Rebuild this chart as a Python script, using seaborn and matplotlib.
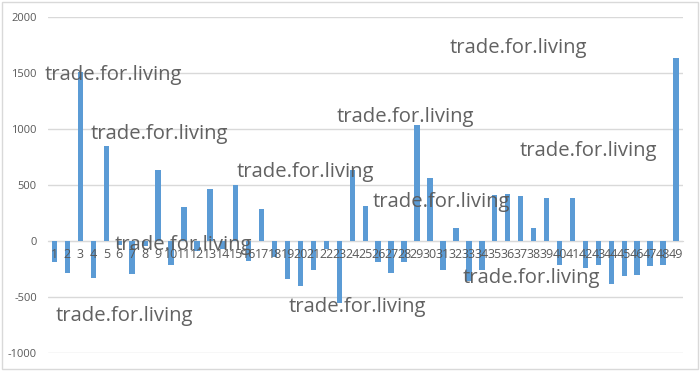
import matplotlib
matplotlib.use("Agg")
import matplotlib.pyplot as plt
import seaborn as sns
import pandas as pd
from matplotlib.patches import Rectangle

categories = [str(i) for i in range(1, 50)]
values = [-190, -285, 1510, -330, 850, -40, -295, -50, 630, -215,
          300, -95, 460, -75, 500, -180, 285, -145, -340, -405,
          -260, -70, -555, 630, 310, -190, -285, -190, 1035, 560,
          -260, 115, -360, -260, 410, 415, 400, 113, 380, -215,
          380, -245, -215, -385, -315, -305, -225, -215, 1630]
y_ticks = [-1000, -500, 0, 500, 1000, 1500, 2000]
watermark = "trade.for.living"
# watermark anchor positions in pixels (left x, baseline y from top)
wm_x = [45, 91, 115, 56, 237, 337, 289, 373, 450, 520, 463]
wm_y = [80, 139, 250, 321, 177, 122, 312, 207, 53, 156, 283]

df = pd.DataFrame({"cat": categories, "val": values})

sns.set_style("white")
plt.rcParams["font.family"] = ["Open Sans", "DejaVu Sans"]

W, H = 700, 371
fig = plt.figure(figsize=(W / 100, H / 100), dpi=100)
fig.patch.set_facecolor("white")
ax = fig.add_axes([48 / W, 1 - 352.7 / H, (682.5 - 48) / W, (352.7 - 16.7) / H])

sns.barplot(data=df, x="cat", y="val", color="#5B9BD5", width=0.42,
            saturation=1, linewidth=0, ax=ax, zorder=3)

ax.set_ylim(-1000, 2000)
ax.set_xlim(-0.5, len(categories) - 0.5)
ax.set_yticks(y_ticks)
ax.set_yticklabels([str(v) for v in y_ticks])
ax.yaxis.grid(True, color="#D9D9D9", linewidth=1)
ax.set_axisbelow(True)
ax.xaxis.set_zorder(5)
for s in ["left", "right", "top"]:
    ax.spines[s].set_visible(False)
ax.spines["bottom"].set_position(("data", 0))
ax.spines["bottom"].set_color("#D9D9D9")
ax.spines["bottom"].set_zorder(2)
ax.tick_params(axis="y", length=0, pad=8, labelsize=8, labelcolor="#595959")
ax.tick_params(axis="x", length=0, pad=5, labelsize=9, labelcolor="#595959")
ax.set_xlabel("")
ax.set_ylabel("")

for x, y in zip(wm_x, wm_y):
    fig.text(x / W, 1 - y / H, watermark, fontsize=14.6, color="#595959",
             ha="left", va="baseline", zorder=10, alpha=0.95)

fig.patches.append(Rectangle((2 / W, 1 - 368.7 / H), (697.7 - 2) / W, (368.7 - 2) / H,
                             transform=fig.transFigure, fill=False,
                             edgecolor="#D9D9D9", linewidth=1))

fig.savefig("out.png", dpi=100)
